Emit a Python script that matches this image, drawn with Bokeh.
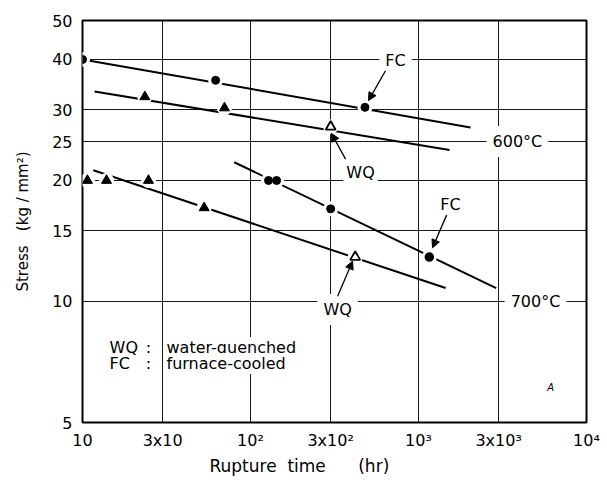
from bokeh.plotting import figure
from bokeh.models import FixedTicker, Label, Arrow, NormalHead
from bokeh.embed import file_html
from bokeh.resources import INLINE

# ---- axis ticks ----
x_ticks = [10, 30, 100, 300, 1000, 3000, 10000]
x_tick_labels = ["10", "3x10", "10²", "3x10²", "10³", "3x10³", "10⁴"]
y_ticks = [5, 10, 15, 20, 25, 30, 40, 50]
y_tick_labels = ["5", "10", "15", "20", "25", "30", "40", "50"]

# ---- data: 600 C ----
fc600_x = [10, 62, 480]
fc600_y = [40, 35.5, 30.4]
fc600_fit_x = [10, 2040]
fc600_fit_y = [40, 27.1]

wq600_x = [23.5, 70]
wq600_y = [32.3, 30.3]
wq600_open_x = [300]
wq600_open_y = [27.2]
wq600_fit_x = [11.8, 1530]
wq600_fit_y = [33.3, 23.8]

# ---- data: 700 C ----
wq700_x = [10.7, 13.9, 24.7, 53]
wq700_y = [20, 20, 20, 17.1]
wq700_open_x = [420]
wq700_open_y = [12.9]
wq700_fit_x = [11.6, 1450]
wq700_fit_y = [21.2, 10.8]

fc700_x = [128, 143, 300, 1160]
fc700_y = [20, 20, 17.0, 12.9]
fc700_fit_x = [80, 2900]
fc700_fit_y = [22.2, 10.8]

FONT = "DejaVu Sans"
NB = "\u00a0"

p = figure(width=607, height=480, x_axis_type="log", y_axis_type="log",
           x_range=(10, 10000), y_range=(5, 50),
           output_backend="svg", toolbar_location=None,
           min_border_left=82, min_border_right=21,
           min_border_top=20, min_border_bottom=58)
p.background_fill_color = "white"
p.border_fill_color = "white"
p.outline_line_color = "black"
p.outline_line_width = 2

p.xaxis.ticker = FixedTicker(ticks=x_ticks)
p.yaxis.ticker = FixedTicker(ticks=y_ticks)
p.xaxis.major_label_overrides = {t: l for t, l in zip(x_ticks, x_tick_labels)}
p.yaxis.major_label_overrides = {t: l for t, l in zip(y_ticks, y_tick_labels)}
for ax in (p.xaxis, p.yaxis):
    ax.axis_line_color = None
    ax.major_tick_line_color = None
    ax.minor_tick_line_color = None
    ax.major_tick_out = 0
    ax.major_tick_in = 0
    ax.minor_tick_out = 0
    ax.minor_tick_in = 0
    ax.major_label_text_font = FONT
    ax.major_label_text_color = "black"
    ax.major_label_text_font_size = "16px"
    ax.axis_label_text_font = FONT
    ax.axis_label_text_font_style = "normal"
    ax.axis_label_text_color = "black"
p.xaxis.major_label_standoff = 8
p.yaxis.major_label_standoff = 10

p.yaxis.axis_label = "Stress" + NB * 3 + "(kg / mm²)"
p.yaxis.axis_label_text_font_size = "15px"
p.yaxis.axis_label_standoff = 17

p.xaxis.axis_label = "Rupture" + NB * 2 + "time" + NB * 6 + "(hr)" + NB * 13
p.xaxis.axis_label_text_font_size = "17px"
p.xaxis.axis_label_standoff = 3

p.xgrid.ticker = FixedTicker(ticks=x_ticks)
p.ygrid.ticker = FixedTicker(ticks=y_ticks)
for g in (p.xgrid, p.ygrid):
    g.grid_line_color = "black"
    g.grid_line_width = 1
    g.grid_line_alpha = 0.9

# fitted lines
for fx, fy in [(fc600_fit_x, fc600_fit_y), (wq600_fit_x, wq600_fit_y),
               (wq700_fit_x, wq700_fit_y), (fc700_fit_x, fc700_fit_y)]:
    p.line(fx, fy, line_color="black", line_width=2)

# white halos to break the lines around markers
for hx, hy in [(fc600_x, fc600_y), (wq600_x, wq600_y), (wq600_open_x, wq600_open_y),
               (wq700_x, wq700_y), (wq700_open_x, wq700_open_y), (fc700_x, fc700_y)]:
    p.scatter(hx, hy, marker="circle", size=15, fill_color="white", line_color=None)

# markers
p.scatter(fc600_x, fc600_y, marker="circle", size=8, fill_color="black", line_color="black")
p.scatter(fc700_x[:-1], fc700_y[:-1], marker="circle", size=8, fill_color="black", line_color="black")
p.scatter(fc700_x[-1:], fc700_y[-1:], marker="circle_dot", size=8, fill_color="black",
          line_color="black", line_width=1.5)
p.scatter(wq600_x, wq600_y, marker="triangle", size=10, fill_color="black", line_color="black")
p.scatter(wq700_x, wq700_y, marker="triangle", size=10, fill_color="black", line_color="black")
p.scatter(wq600_open_x, wq600_open_y, marker="triangle", size=10, fill_color="white",
          line_color="black", line_width=1.8)
p.scatter(wq700_open_x, wq700_open_y, marker="triangle", size=10, fill_color="white",
          line_color="black", line_width=1.8)


def lab(x, y, text, size="16px", align="center", bg="white", pad=3, style="normal"):
    p.add_layout(Label(x=x, y=y, text=text, text_font=FONT, text_font_size=size,
                       text_align=align, text_baseline="middle", text_color="black",
                       text_font_style=style,
                       background_fill_color=bg, padding=pad))


def arrow(x0, y0, x1, y1):
    p.add_layout(Arrow(end=NormalHead(size=8, fill_color="black", line_color="black"),
                       x_start=x0, y_start=y0, x_end=x1, y_end=y1,
                       line_color="black", line_width=1.3))


# annotations
lab(730, 39.7, "FC", pad=6)
arrow(636, 37.5, 504, 31.6)
lab(452, 20.9, "WQ")
arrow(368, 22.6, 303, 26.2)
lab(3880, 25, "600°C", pad=6)
lab(1550, 17.4, "FC")
arrow(1470, 16.4, 1212, 13.6)
lab(330, 9.55, "WQ", pad=6)
arrow(330, 10.3, 405, 12.6)
lab(4970, 10, "700°C", pad=6)

lab(14.3, 7.68, "WQ", align="left", pad=1)
lab(24.7, 7.68, ":", align="center", pad=1)
lab(31.2, 7.68, "water-quenched", align="left", pad=1)
lab(14.3, 7.01, "FC", align="left", pad=1)
lab(24.7, 7.01, ":", align="center", pad=1)
lab(31.2, 7.01, "furnace-cooled", align="left", pad=1)

lab(6110, 6.1, "A", size="10px", bg=None, pad=0, style="italic")

open("out.html", "w").write(file_html(p, INLINE))
